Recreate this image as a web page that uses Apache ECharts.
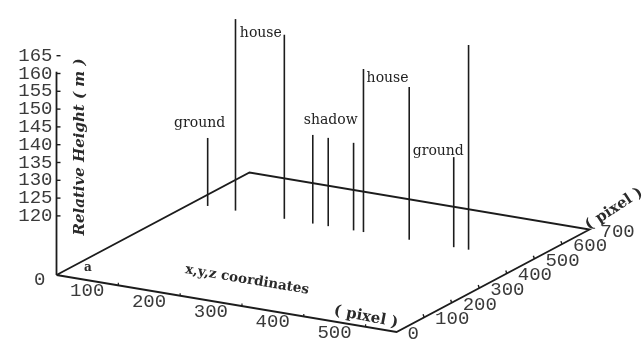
<!DOCTYPE html>
<html><head><meta charset="utf-8">
<script src="https://cdn.jsdelivr.net/npm/echarts@6/dist/echarts.min.js"></script>
<style>html,body{margin:0;padding:0;background:#fff}#c{width:644px;height:342px}</style>
</head><body><div id="c"></div>
<script>
// ---------- data ----------
const stickX = [26, 71, 150, 196, 221, 262, 278, 352, 424, 448];          // x coordinate (pixel)
const stickY = [490, 490, 490, 490, 490, 490, 490, 490, 490, 490];        // y coordinate (pixel)
const stickH = [122.5, 157.2, 155.1, 128.3, 128.2, 128.0, 149.2, 146.3, 128.7, 160.9]; // relative height (m)
const noteText = ['ground', 'house', 'shadow', 'house', 'ground'];
const noteX = [13, 112, 225, 317, 399];
const noteY = [490, 490, 490, 490, 490];
const noteH = [126.2, 154.5, 133.1, 147.7, 129.7];
const xTicks = [100, 200, 300, 400, 500];
const yTicks = [0, 100, 200, 300, 400, 500, 600, 700];
const zTicks = [120, 125, 130, 135, 140, 145, 150, 155, 160, 165];
const xRange = [0, 550];
const yRange = [0, 700];
const zBreak = 103.4;   // the box floor (labelled 0) sits here on the broken height axis
const zAxisTop = 160.5;

// ---------- oblique projection (layout) ----------
const PX_PER_X = 0.6182, X_DROP = 0.1036;   // front axis direction per x unit
const Y_RIGHT = 0.2757, Y_RISE = 0.1464;    // depth axis direction per y unit
const PX_PER_M = 3.56;                      // vertical pixels per metre
function H(h) { return h <= 0 ? zBreak : h; }
function P(api, x, y, h) {
  const u = x + y * Y_RIGHT / PX_PER_X;
  const v = H(h) - x * X_DROP / PX_PER_M + y * Y_RISE / PX_PER_M;
  return api.coord([u, v]);
}
const INK = '#1c1c1c';
const LBL = '#3a3a3a';
const monoFont = '19px "Liberation Mono"';

const chart = echarts.init(document.getElementById('c'), null, {renderer: 'canvas'});
chart.setOption({
  backgroundColor: '#fff',
  animation: false,
  grid: {left: 56.5, top: 2.3, width: 556.4, height: 338.2, outerBoundsMode: 'none', containLabel: false},
  xAxis: {type: 'value', min: 0, max: 900, show: false},
  yAxis: {type: 'value', min: 85, max: 180, show: false},
  series: [
    { // frame, axes, ticks, tick labels
      type: 'custom', clip: false, silent: true,
      data: [0],
      renderItem: function (params, api) {
        const ch = [];
        const O = P(api, xRange[0], yRange[0], 0);
        const A = P(api, xRange[1], yRange[0], 0);
        const B = P(api, xRange[1], yRange[1], 0);
        const C = P(api, xRange[0], yRange[1], 0);
        const T = P(api, xRange[0], yRange[0], zAxisTop);
        ch.push({type: 'polyline', shape: {points: [O, A, B, C, O]},
          style: {stroke: INK, lineWidth: 1.8, fill: null}});
        ch.push({type: 'line', shape: {x1: O[0], y1: O[1], x2: T[0], y2: T[1]},
          style: {stroke: INK, lineWidth: 1.8}});
        zTicks.forEach(function (t) {
          const p = P(api, xRange[0], yRange[0], t);
          ch.push({type: 'line', shape: {x1: p[0], y1: p[1], x2: p[0] + 4, y2: p[1]},
            style: {stroke: INK, lineWidth: 1.4}});
          ch.push({type: 'text', x: p[0] - 4, y: p[1],
            style: {text: String(t), font: monoFont, fill: LBL, align: 'right', verticalAlign: 'middle'}});
        });
        ch.push({type: 'text', x: O[0] - 11, y: O[1] + 5,
          style: {text: '0', font: monoFont, fill: LBL, align: 'right', verticalAlign: 'middle'}});
        xTicks.forEach(function (t) {
          const p = P(api, t, yRange[0], 0);
          ch.push({type: 'line', shape: {x1: p[0], y1: p[1], x2: p[0], y2: p[1] - 2.5},
            style: {stroke: INK, lineWidth: 1.2}});
          ch.push({type: 'text', x: p[0] - 14, y: p[1] + 6,
            style: {text: String(t), font: monoFont, fill: LBL, align: 'right', verticalAlign: 'middle'}});
        });
        yTicks.forEach(function (t) {
          const p = P(api, xRange[1], t, 0);
          if (t > 0 && t < yRange[1]) {
            ch.push({type: 'line', shape: {x1: p[0], y1: p[1], x2: p[0] - 1, y2: p[1] - 3},
              style: {stroke: INK, lineWidth: 1.4}});
          }
          ch.push({type: 'text', x: p[0] + 11, y: p[1] + 2,
            style: {text: String(t), font: monoFont, fill: LBL, align: 'left', verticalAlign: 'middle'}});
        });
        return {type: 'group', children: ch};
      }
    },
    { // vertical sticks
      type: 'custom', clip: false, silent: true,
      data: stickX.map(function (x, i) { return [x, stickY[i], stickH[i]]; }),
      renderItem: function (params, api) {
        const x = api.value(0), y = api.value(1), h = api.value(2);
        const b = P(api, x, y, 0), t = P(api, x, y, h);
        return {type: 'line', shape: {x1: b[0], y1: b[1], x2: t[0], y2: t[1]},
          style: {stroke: INK, lineWidth: 1.6}};
      }
    },
    { // annotations
      type: 'custom', clip: false, silent: true,
      data: noteText.map(function (s, i) { return [noteX[i], noteY[i], noteH[i], i]; }),
      renderItem: function (params, api) {
        const i = api.value(3);
        const p = P(api, api.value(0), api.value(1), api.value(2));
        return {type: 'text', x: p[0], y: p[1],
          style: {text: noteText[i], font: '14px "DejaVu Serif"', fill: '#222',
            align: 'center', verticalAlign: 'middle'}};
      }
    }
  ],
  graphic: [
    {type: 'text', x: 80, y: 147, rotation: Math.PI / 2,
      style: {text: 'Relative Height ( m )', font: 'italic bold 15px "DejaVu Serif"', fill: '#2a2a2a',
        align: 'center', verticalAlign: 'middle'}},
    {type: 'text', x: 88, y: 268,
      style: {text: 'a', font: 'bold 12px "DejaVu Serif"', fill: '#2a2a2a', align: 'center', verticalAlign: 'middle'}},
    {type: 'text', x: 247, y: 280, rotation: -9.5 * Math.PI / 180,
      style: {text: 'x,y,z coordinates', font: 'bold 13.5px "DejaVu Serif"', fill: '#2a2a2a', align: 'center', verticalAlign: 'middle'}},
    {type: 'text', x: 366, y: 317, rotation: -11 * Math.PI / 180,
      style: {text: '( pixel )', font: 'bold 15px "DejaVu Serif"', fill: '#2a2a2a', align: 'center', verticalAlign: 'middle'}},
    {type: 'text', x: 614, y: 209, rotation: 33 * Math.PI / 180,
      style: {text: '( pixel )', font: 'bold 15px "DejaVu Serif"', fill: '#2a2a2a', align: 'center', verticalAlign: 'middle'}}
  ]
});
</script></body></html>
